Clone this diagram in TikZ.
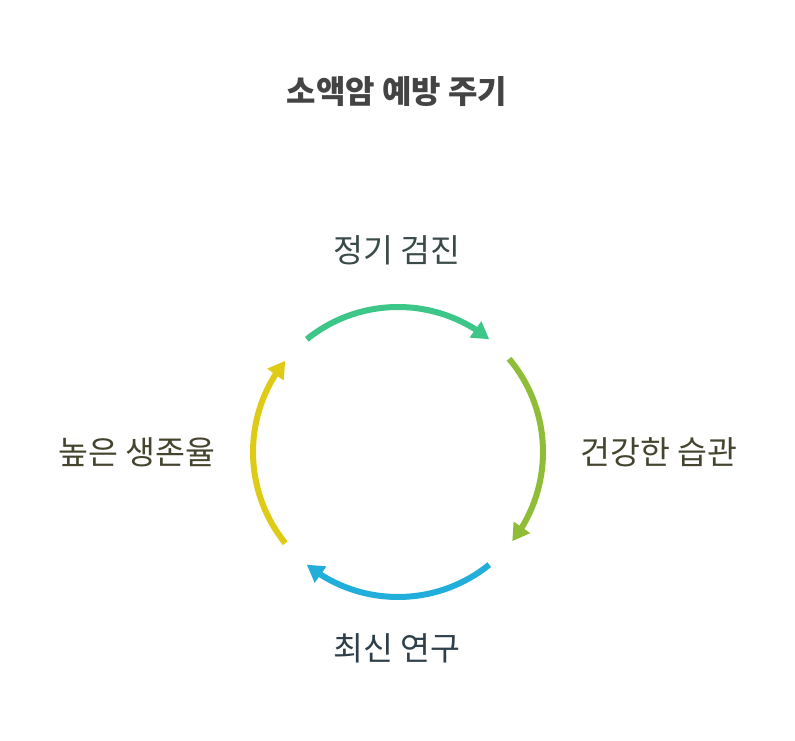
\documentclass[tikz,border=0pt]{standalone}
\usepackage{fontspec}
\setmainfont{Noto Sans CJK KR}
\usetikzlibrary{arrows.meta,bending}
\definecolor{cgreen}{HTML}{3CC687}
\definecolor{colive}{HTML}{8FBD38}
\definecolor{cblue}{HTML}{22AEDB}
\definecolor{cyellow}{HTML}{DFCB15}
\definecolor{ttitle}{HTML}{444444}
\definecolor{tteal}{HTML}{3A4A48}
\definecolor{tolive}{HTML}{45452F}
\definecolor{tblue}{HTML}{2F3F4A}
\begin{document}
\begin{tikzpicture}[x=1pt,y=1pt,
  lbl/.style={font=\fontsize{32.5}{36}\selectfont, inner sep=0pt, anchor=center},
  cyc/.style={line width=6pt, -{Triangle[length=17pt,width=19pt,flex]}}]
\useasboundingbox (0,0) rectangle (795,741);
\fill[white] (0,0) rectangle (795,741);
\coordinate (c) at (398,289);
\node[lbl, font=\fontsize{32}{36}\selectfont\bfseries, text=ttitle] (title) at (397,649) {소액암 예방 주기};
\node[lbl, text=tteal] (top) at (397,491) {정기 검진};
\node[lbl, text=tolive] (right) at (659,289) {건강한 습관};
\node[lbl, text=tblue] (bottom) at (397,93) {최신 연구};
\node[lbl, text=tolive] (left) at (137,289) {높은 생존율};
\draw[cyc, cgreen] ([shift={(129:145)}]c) arc[start angle=129, end angle=51, radius=145];
\draw[cyc, colive] ([shift={(40:145)}]c) arc[start angle=40, end angle=-38, radius=145];
\draw[cyc, cblue] ([shift={(-51:145)}]c) arc[start angle=-51, end angle=-129, radius=145];
\draw[cyc, cyellow] ([shift={(-141:145)}]c) arc[start angle=-141, end angle=-219, radius=145];
\end{tikzpicture}
\end{document}
